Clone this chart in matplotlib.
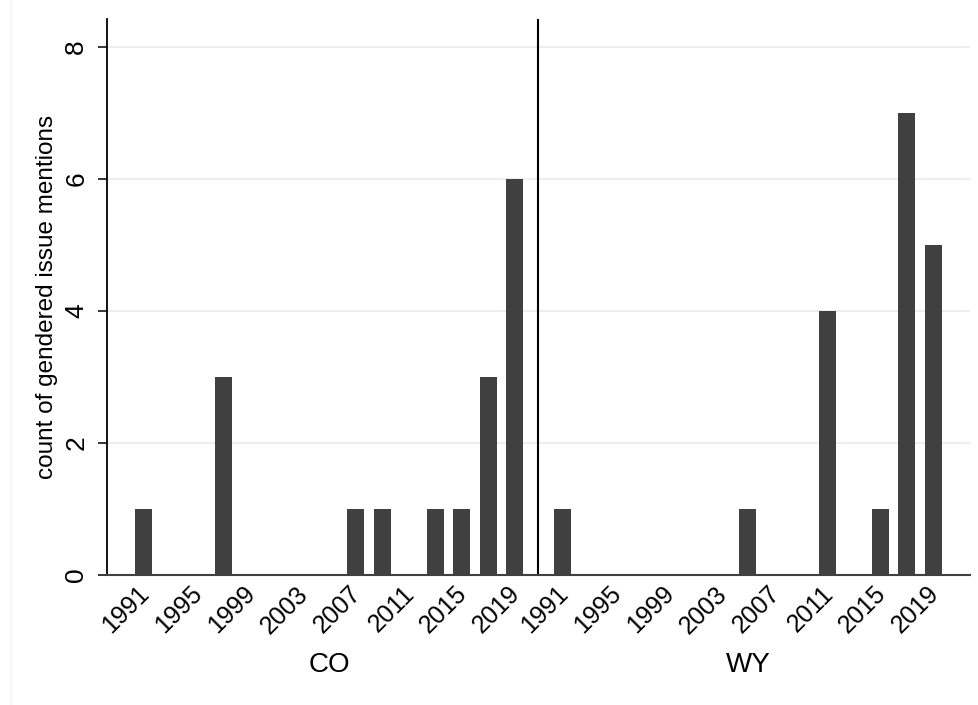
import numpy as np
import matplotlib
matplotlib.use("Agg")
import matplotlib.pyplot as plt
from matplotlib.lines import Line2D

plt.rcParams["font.family"] = ["Liberation Sans", "DejaVu Sans"]

#Election years (odd years) and counts per state
years = [1991, 1993, 1995, 1997, 1999, 2001, 2003, 2005, 2007, 2009, 2011, 2013, 2015, 2017, 2019]
co_counts = [1, 0, 0, 3, 0, 0, 0, 0, 1, 1, 0, 1, 1, 3, 6]
wy_counts = [1, 0, 0, 0, 0, 0, 0, 1, 0, 0, 4, 0, 1, 7, 5]
states = ["CO", "WY"]
tick_years = ["1991", "1995", "1999", "2003", "2007", "2011", "2015", "2019"]
yticks = [0, 2, 4, 6, 8]

bar_color = "#404040"
grid_color = "#e9eff2"

#One slot per year, small gap between the two states
n = len(years)
gap = 1.81
offsets = [0, n - 1 + gap]

fig = plt.figure(figsize=(9.79, 7.05), dpi=100)
ax = fig.add_axes([107 / 979, 130 / 705, (970 - 107) / 979, (575 - 19) / 705])

for off, counts in zip(offsets, [co_counts, wy_counts]):
    x = off + np.arange(n)
    ax.bar(x, counts, width=0.64, color=bar_color, zorder=3)

ax.set_xlim(-1.38, offsets[1] + n - 1 + 1.38)
ax.set_ylim(0, 8.42)

#Gridlines
for y in yticks[1:]:
    ax.axhline(y, color=grid_color, lw=1.5, zorder=1)

#Divider between states
ax.axvline((n - 1 + offsets[1]) / 2, color="black", lw=1.5, zorder=4)

ax.spines["top"].set_visible(False)
ax.spines["right"].set_visible(False)
ax.spines["left"].set_linewidth(1.3)
ax.spines["bottom"].set_linewidth(1.5)
ax.spines["bottom"].set_color("#404040")
ax.spines["bottom"].set_zorder(5)

ax.set_yticks(yticks)
ax.set_yticklabels([str(v) for v in yticks], rotation=90, va="center", fontsize=19)
ax.tick_params(axis="y", length=6.5, width=1.1, pad=7)

#Year labels every second slot
ax.set_xticks([])
for k, off in enumerate(offsets):
    for i, lab in enumerate(tick_years):
        ax.text(off + 2 * i - 0.25, -0.1, lab, rotation=45, ha="right", va="top",
                rotation_mode="anchor", fontsize=18)
    ax.text(off + (n - 1) / 2, -1.37, states[k], ha="center", va="center", fontsize=20)

ax.set_ylabel("count of gendered issue mentions", fontsize=17.5)
ax.yaxis.set_label_coords(-49 / 863, 0.5)

#faint outer frame line on the left
fig.add_artist(Line2D([11 / 979, 11 / 979], [0, 1], color="#f2f2f2", lw=1,
                      transform=fig.transFigure))

fig.savefig("out.png", dpi=100)
